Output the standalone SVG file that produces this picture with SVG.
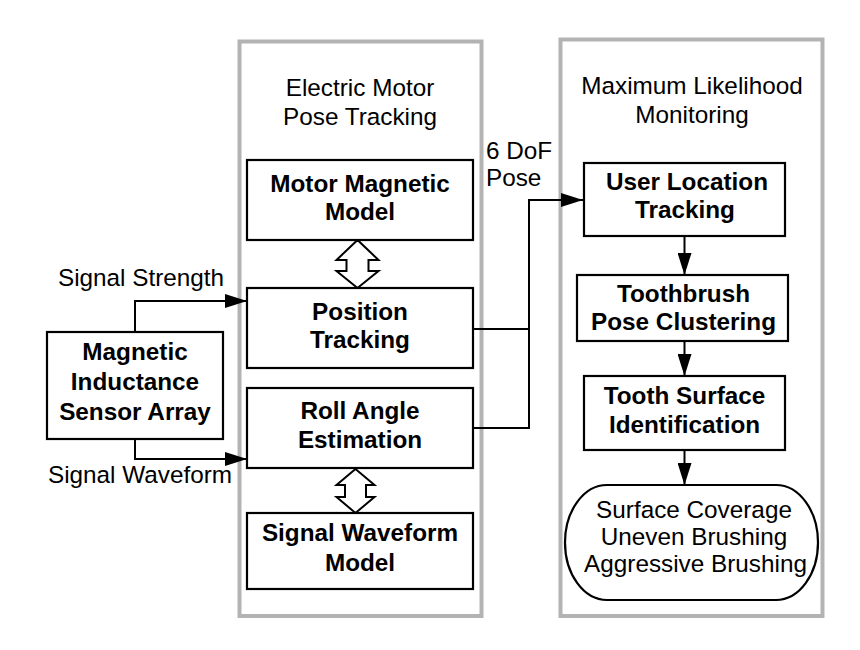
<svg xmlns="http://www.w3.org/2000/svg" width="860" height="650" viewBox="0 0 860 650">
<style>
text{font-family:"Liberation Sans",Arial,sans-serif;font-size:24.3px;fill:#000}
.b{font-weight:bold}
.c{text-anchor:middle}
.panel{fill:#fff;stroke:#b3b3b3;stroke-width:4}
.box{fill:#fff;stroke:#000;stroke-width:2.2}
.ln{fill:none;stroke:#000;stroke-width:2}
.dbl{fill:#fff;stroke:#000;stroke-width:2}
</style>
<defs>
<marker id="ah" markerUnits="userSpaceOnUse" markerWidth="22" markerHeight="14" refX="22" refY="7" orient="auto">
<path d="M0,0 L22,7 L0,14 z" fill="#000"/>
</marker>
</defs>
<rect width="860" height="650" fill="#fff"/>
<g id="panel-left">
<rect class="panel" x="239.5" y="41.5" width="242" height="574.5"/>
<text class="c" x="360" y="96">Electric Motor</text>
<text class="c" x="360" y="124.5">Pose Tracking</text>
</g>
<g id="panel-right">
<rect class="panel" x="560.5" y="39.5" width="262" height="576.5"/>
<text class="c" x="692" y="94">Maximum Likelihood</text>
<text class="c" x="692" y="123">Monitoring</text>
</g>
<g id="connectors">
<polyline class="ln" points="135,332 135,301 247,301" marker-end="url(#ah)"/>
<polyline class="ln" points="135,439 135,459 247,459" marker-end="url(#ah)"/>
<polyline class="ln" points="473,329 529,329 529,200"/>
<polyline class="ln" points="473,428 529,428 529,200 583,200" marker-end="url(#ah)"/>
<line class="ln" x1="684.5" y1="236" x2="684.5" y2="275" marker-end="url(#ah)"/>
<line class="ln" x1="684.5" y1="341" x2="684.5" y2="376" marker-end="url(#ah)"/>
<line class="ln" x1="684.5" y1="450" x2="684.5" y2="485" marker-end="url(#ah)"/>
<polygon class="dbl" points="357.5,240 336.5,260 346.5,260 346.5,271 336.5,271 357.5,288 378.5,271 368.5,271 368.5,260 378.5,260"/>
<polygon class="dbl" points="355.5,469 336.5,485 345,485 345,497 336.5,497 355.5,513 374.5,497 366,497 366,485 374.5,485"/>
<text x="486" y="158.5">6 DoF</text>
<text x="486" y="186">Pose</text>
<text class="c" x="141" y="285.5">Signal Strength</text>
<text class="c" x="140" y="482.5">Signal Waveform</text>
</g>
<g id="sensor">
<rect class="box" x="47" y="332" width="176" height="107"/>
<text class="b c" x="135" y="360">Magnetic</text>
<text class="b c" x="135" y="390">Inductance</text>
<text class="b c" x="135" y="419.5">Sensor Array</text>
</g>
<g id="motor-model">
<rect class="box" x="247" y="160" width="226" height="80"/>
<text class="b c" x="360" y="192">Motor Magnetic</text>
<text class="b c" x="360" y="220">Model</text>
</g>
<g id="position">
<rect class="box" x="247" y="288" width="226" height="80"/>
<text class="b c" x="360" y="319.5">Position</text>
<text class="b c" x="360" y="348">Tracking</text>
</g>
<g id="roll">
<rect class="box" x="247" y="388" width="226" height="80"/>
<text class="b c" x="360" y="418.5">Roll Angle</text>
<text class="b c" x="360" y="448">Estimation</text>
</g>
<g id="waveform-model">
<rect class="box" x="247" y="513" width="226" height="76"/>
<text class="b c" x="360" y="541">Signal Waveform</text>
<text class="b c" x="360" y="570.5">Model</text>
</g>
<g id="user-location">
<rect class="box" x="584" y="163" width="201" height="73"/>
<text class="b c" x="687" y="189.5">User Location</text>
<text class="b c" x="685" y="217.5">Tracking</text>
</g>
<g id="toothbrush">
<rect class="box" x="577" y="275" width="211" height="66"/>
<text class="b c" x="683.5" y="301.5">Toothbrush</text>
<text class="b c" x="683.5" y="329.5">Pose Clustering</text>
</g>
<g id="tooth-surface">
<rect class="box" x="584" y="376" width="201" height="74"/>
<text class="b c" x="684.5" y="403.5">Tooth Surface</text>
<text class="b c" x="684.5" y="433">Identification</text>
</g>
<g id="outcome">
<rect class="box" x="565" y="485" width="253" height="115" rx="42" ry="57.5"/>
<text class="c" x="694" y="517.5">Surface Coverage</text>
<text class="c" x="694" y="545">Uneven Brushing</text>
<text class="c" x="695.5" y="572">Aggressive Brushing</text>
</g>
</svg>
